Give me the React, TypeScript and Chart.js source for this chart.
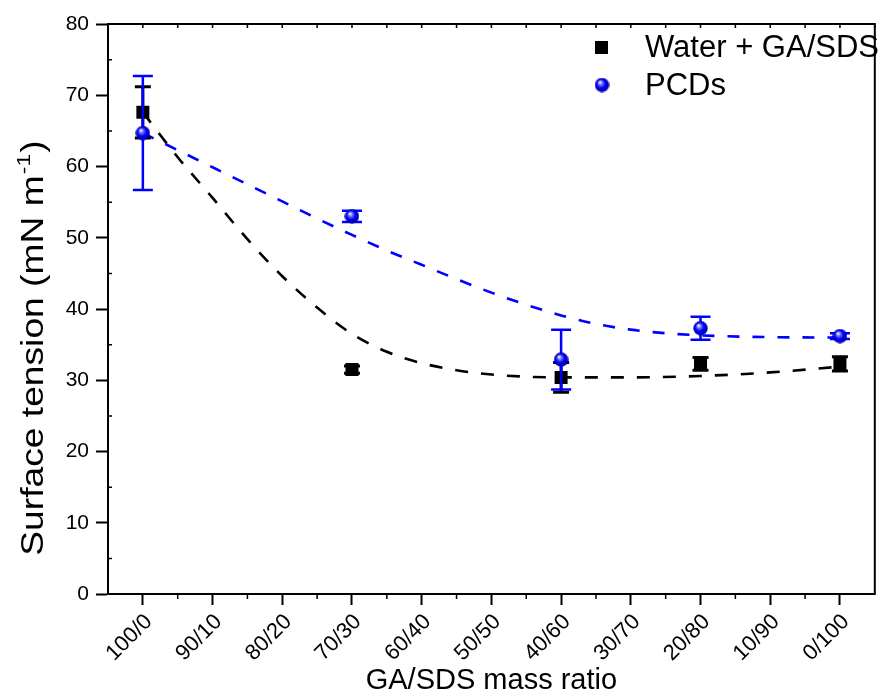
import React, { useEffect, useRef } from 'react';
import { Chart, registerables } from 'chart.js';

Chart.register(...registerables);

const FONT = '"Liberation Sans", Arial, Helvetica, sans-serif';

// Category tick labels (GA/SDS mass ratio)
const categories = ['100/0', '90/10', '80/20', '70/30', '60/40', '50/50', '40/60', '30/70', '20/80', '10/90', '0/100'];
const yTickValues = [0, 10, 20, 30, 40, 50, 60, 70, 80];

// Measured samples (category index positions)
const sampleIdx = [0, 3, 6, 8, 10];
const waterValues = [67.6, 31.5, 30.4, 32.3, 32.3];
const waterErrors = [3.6, 0.5, 2.1, 0.9, 1.0];
const pcdValues = [64.7, 53.0, 32.9, 37.3, 36.2];
const pcdErrors = [8.0, 0.8, 4.2, 1.6, 0.4];

// Dashed trend curves
const waterFitX = [0, 0.5, 1, 1.5, 2, 2.5, 3, 3.5, 4, 4.5, 5, 6, 7, 8, 9, 10];
const waterFitY = [67.6, 61.3, 55.6, 49.8, 44.6, 40.2, 36.5, 34.0, 32.4, 31.4, 30.8, 30.4, 30.4, 30.6, 31.1, 31.9];
const pcdFitX = [0, 0.5, 1, 1.5, 2, 2.5, 3, 3.5, 4, 4.5, 5, 5.5, 6, 6.5, 7, 7.5, 8, 9, 10];
const pcdFitY = [64.7, 62.3, 59.9, 57.5, 55.1, 52.7, 50.4, 48.2, 46.2, 44.2, 42.3, 40.6, 39.1, 37.9, 37.1, 36.6, 36.3, 36.05, 36.0];

const seriesNames = ['Water + GA/SDS', 'PCDs'];
const yTitleMain = 'Surface tension (mN m';
const yTitleSup = '-1';
const yTitleEnd = ')';
const xTitle = 'GA/SDS mass ratio';

const BLUE = '#0000ff';

function makeSphere(d: number): HTMLCanvasElement {
  const c = document.createElement('canvas');
  c.width = d;
  c.height = d;
  const g = c.getContext('2d')!;
  const r = d / 2;
  const grad = g.createRadialGradient(r * 0.72, r * 0.62, r * 0.05, r, r, r);
  grad.addColorStop(0, '#ffffff');
  grad.addColorStop(0.22, '#8080ff');
  grad.addColorStop(0.55, '#0000ff');
  grad.addColorStop(1, '#000090');
  g.fillStyle = grad;
  g.beginPath();
  g.arc(r, r, r - 0.3, 0, Math.PI * 2);
  g.fill();
  return c;
}

const SPHERE = makeSphere(15);

const errorBarPlugin = {
  id: 'errorBars',
  beforeDatasetDraw(chart: any, args: any) {
    const ds = chart.data.datasets[args.index];
    if (!ds.errors) return;
    const { ctx } = chart;
    const x = chart.scales.x;
    const y = chart.scales.y;
    ctx.save();
    ctx.strokeStyle = ds.errorColor;
    ctx.lineWidth = ds.errorWidth;
    ds.data.forEach((p: any, i: number) => {
      const e = ds.errors[i];
      const px = x.getPixelForValue(p.x);
      const top = y.getPixelForValue(p.y + e);
      const bot = y.getPixelForValue(p.y - e);
      const hw = ds.capHalf;
      ctx.beginPath();
      ctx.moveTo(px, top);
      ctx.lineTo(px, bot);
      ctx.moveTo(px - hw, top);
      ctx.lineTo(px + hw, top);
      ctx.moveTo(px - hw, bot);
      ctx.lineTo(px + hw, bot);
      ctx.stroke();
    });
    ctx.restore();
  },
};

const framePlugin = {
  id: 'frame',
  beforeDatasetsDraw(chart: any) {
    const { ctx, chartArea: ca } = chart;
    const x = chart.scales.x;
    const y = chart.scales.y;
    ctx.save();
    ctx.strokeStyle = '#000';
    ctx.lineWidth = 2;
    ctx.beginPath();
    ctx.moveTo(ca.left - 1, ca.top);
    ctx.lineTo(ca.right, ca.top);
    ctx.lineTo(ca.right, ca.bottom + 1);
    ctx.stroke();
    ctx.lineWidth = 1.5;
    ctx.beginPath();
    for (let i = 0; i < categories.length - 1; i++) {
      const px = x.getPixelForValue(i + 0.5);
      ctx.moveTo(px, ca.bottom);
      ctx.lineTo(px, ca.bottom + 5);
    }
    for (let i = 0; i < categories.length * 2; i++) {
      const px = x.getPixelForValue(i * 0.5);
      ctx.moveTo(px, ca.top);
      ctx.lineTo(px, ca.top + 4);
    }
    for (let v = 5; v < 80; v += 10) {
      const py = y.getPixelForValue(v);
      ctx.moveTo(ca.left, py);
      ctx.lineTo(ca.left + 4, py);
    }
    ctx.stroke();
    ctx.restore();
  },
};

const overlayPlugin = {
  id: 'overlay',
  afterDraw(chart: any) {
    const { ctx } = chart;
    ctx.save();
    const size = 31;
    const stretch = 1.2;
    ctx.translate(43, 348);
    ctx.rotate(-Math.PI / 2);
    ctx.scale(stretch, 1);
    ctx.fillStyle = '#000';
    ctx.textBaseline = 'alphabetic';
    ctx.textAlign = 'left';
    ctx.font = `${size}px ${FONT}`;
    const wMain = ctx.measureText(yTitleMain).width;
    const wEnd = ctx.measureText(yTitleEnd).width;
    ctx.font = `${Math.round(size * 0.6)}px ${FONT}`;
    const wSup = ctx.measureText(yTitleSup).width;
    const total = wMain + wSup + wEnd + 2;
    let sx = -total / 2;
    ctx.font = `${size}px ${FONT}`;
    ctx.fillText(yTitleMain, sx, 0);
    sx += wMain;
    ctx.font = `${Math.round(size * 0.6)}px ${FONT}`;
    ctx.fillText(yTitleSup, sx + 1, -size * 0.42);
    sx += wSup + 2;
    ctx.font = `${size}px ${FONT}`;
    ctx.fillText(yTitleEnd, sx, 0);
    ctx.restore();

    ctx.save();
    ctx.fillStyle = '#000';
    ctx.fillRect(595, 41, 13, 13);
    ctx.drawImage(SPHERE, 602 - SPHERE.width / 2, 85 - SPHERE.height / 2);
    ctx.font = `31px ${FONT}`;
    ctx.textBaseline = 'middle';
    ctx.textAlign = 'left';
    ctx.fillText(seriesNames[0], 645, 48);
    ctx.fillText(seriesNames[1], 645, 86);
    ctx.restore();
  },
};

export default function App() {
  const ref = useRef<HTMLCanvasElement | null>(null);

  useEffect(() => {
    const canvas = ref.current;
    if (!canvas) return;
    const waterPts = sampleIdx.map((xv, i) => ({ x: xv, y: waterValues[i] }));
    const pcdPts = sampleIdx.map((xv, i) => ({ x: xv, y: pcdValues[i] }));
    const waterFit = waterFitX.map((xv, i) => ({ x: xv, y: waterFitY[i] }));
    const pcdFit = pcdFitX.map((xv, i) => ({ x: xv, y: pcdFitY[i] }));

    const chart: any = new Chart(canvas, {
      type: 'scatter',
      data: {
        datasets: [
          {
            label: seriesNames[1],
            data: pcdPts,
            pointStyle: SPHERE,
            pointRadius: 7,
            backgroundColor: BLUE,
            borderColor: BLUE,
            errors: pcdErrors,
            errorColor: BLUE,
            errorWidth: 2.5,
            capHalf: 10,
          } as any,
          {
            label: seriesNames[0],
            data: waterPts,
            pointStyle: 'rect',
            pointRadius: 9.2,
            backgroundColor: '#000',
            borderColor: '#000',
            borderWidth: 0,
            errors: waterErrors,
            errorColor: '#000',
            errorWidth: 3,
            capHalf: 8,
          } as any,
          {
            label: 'PCDs trend',
            data: pcdFit,
            showLine: true,
            pointRadius: 0,
            borderColor: BLUE,
            borderWidth: 2.6,
            borderDash: [12, 13],
            cubicInterpolationMode: 'monotone',
          } as any,
          {
            label: 'Water trend',
            data: waterFit,
            showLine: true,
            pointRadius: 0,
            borderColor: '#000',
            borderWidth: 2.6,
            borderDash: [13, 13],
            cubicInterpolationMode: 'monotone',
          } as any,
        ],
      },
      options: {
        responsive: false,
        animation: false,
        devicePixelRatio: 1,
        layout: { padding: { left: 0, top: 24, right: 3, bottom: 0 } },
        plugins: { legend: { display: false }, tooltip: { enabled: false } },
        scales: {
          x: {
            type: 'linear',
            min: -0.5,
            max: 10.5,
            afterBuildTicks: (s: any) => {
              s.ticks = categories.map((_, i) => ({ value: i }));
            },
            afterFit: (s: any) => {
              s.height = 103;
            },
            ticks: {
              callback: (v: any) => categories[v] ?? '',
              font: { family: FONT, size: 22 },
              color: '#000',
              minRotation: 45,
              maxRotation: 45,
              autoSkip: false,
              padding: 4,
              labelOffset: 6,
            },
            grid: { drawOnChartArea: false, drawTicks: true, tickLength: 11, tickWidth: 2, tickColor: '#000' },
            border: { display: true, color: '#000', width: 2 },
            title: {
              display: true,
              text: xTitle,
              font: { family: FONT, size: 29, lineHeight: 1.1 },
              color: '#000',
              padding: { top: 0, bottom: 0 },
            },
          },
          y: {
            min: 0,
            max: 80,
            afterBuildTicks: (s: any) => {
              s.ticks = yTickValues.map((v) => ({ value: v }));
            },
            afterFit: (s: any) => {
              s.width = 108;
            },
            ticks: { font: { family: FONT, size: 21 }, color: '#000', padding: 7 },
            grid: { drawOnChartArea: false, drawTicks: true, tickLength: 12, tickWidth: 2, tickColor: '#000' },
            border: { display: true, color: '#000', width: 2 },
          },
        },
      } as any,
      plugins: [errorBarPlugin, framePlugin, overlayPlugin],
    });

    return () => {
      chart.destroy();
    };
  }, []);

  return (
    <div style={{ position: 'absolute', left: 0, top: 0, width: 884, height: 697, background: '#fff' }}>
      <canvas ref={ref} width={884} height={697} style={{ display: 'block', width: 884, height: 697 }} />
    </div>
  );
}
